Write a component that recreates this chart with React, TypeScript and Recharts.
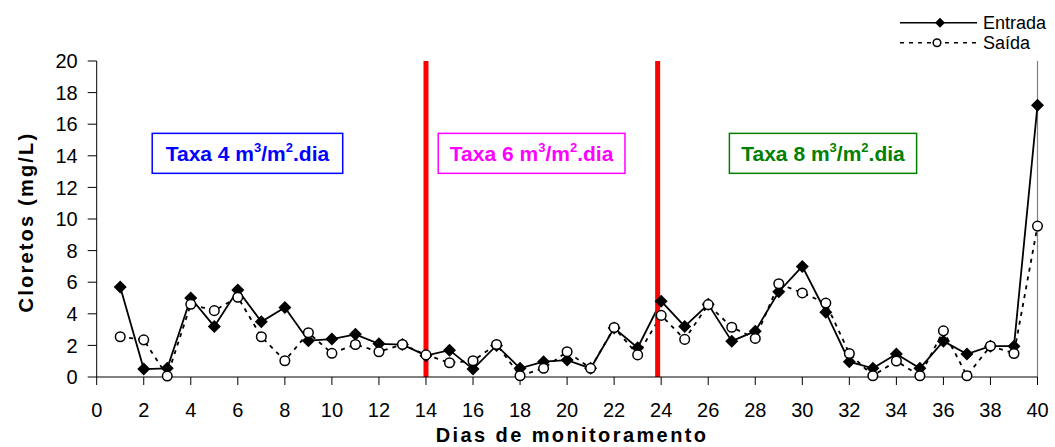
import React from 'react';
import { LineChart, Line, XAxis, YAxis, ReferenceLine, ReferenceArea, Legend } from 'recharts';

const days = [1, 2, 3, 4, 5, 6, 7, 8, 9, 10, 11, 12, 13, 14, 15, 16, 17, 18, 19, 20, 21, 22, 23, 24, 25, 26, 27, 28, 29, 30, 31, 32, 33, 34, 35, 36, 37, 38, 39, 40];
const entrada = [5.7, 0.5, 0.55, 5.0, 3.2, 5.5, 3.5, 4.4, 2.3, 2.4, 2.7, 2.1, 2.05, 1.35, 1.7, 0.5, 2.0, 0.55, 0.97, 1.07, 0.55, 3.1, 1.85, 4.8, 3.2, 4.6, 2.27, 2.9, 5.4, 7.0, 4.1, 0.97, 0.55, 1.45, 0.55, 2.27, 1.45, 1.95, 1.95, 17.2];
const saida = [2.55, 2.35, 0.06, 4.6, 4.2, 5.05, 2.55, 1.03, 2.8, 1.5, 2.06, 1.6, 2.06, 1.4, 0.9, 1.03, 2.06, 0.08, 0.55, 1.6, 0.55, 3.13, 1.4, 3.9, 2.38, 4.58, 3.15, 2.44, 5.9, 5.32, 4.68, 1.49, 0.08, 1.01, 0.08, 2.92, 0.08, 1.96, 1.49, 9.55];
const xTicks = [0, 2, 4, 6, 8, 10, 12, 14, 16, 18, 20, 22, 24, 26, 28, 30, 32, 34, 36, 38, 40];
const yTicks = [0, 2, 4, 6, 8, 10, 12, 14, 16, 18, 20];
const seriesNames = ['Entrada', 'Saída'];
const rates = ['4', '6', '8'];

const data = days.map((d, i) => ({ day: d, entrada: entrada[i], saida: saida[i] }));

const FONT = '"Liberation Sans", Arial, sans-serif';

const Diamond = (props: any) => {
  const { cx, cy, index } = props;
  if (cx == null || cy == null) return <g key={`d-${index}`} />;
  const s = 6.5;
  return (
    <path
      key={`d-${index}`}
      d={`M${cx},${cy - s}L${cx + s},${cy}L${cx},${cy + s}L${cx - s},${cy}Z`}
      fill="#000"
    />
  );
};

const OpenCircle = (props: any) => {
  const { cx, cy, index } = props;
  if (cx == null || cy == null) return <g key={`c-${index}`} />;
  return <circle key={`c-${index}`} cx={cx} cy={cy} r={4.8} fill="#fff" stroke="#000" strokeWidth={1.5} />;
};

const makeRateBox = (rate: string, color: string) => (props: any) => {
  const { x, y, width, height } = props;
  return (
    <g>
      <rect x={x} y={y} width={width} height={height} fill="#fff" stroke={color} strokeWidth={1.5} />
      <text
        x={x + width / 2}
        y={y + height / 2 + 7.5}
        textAnchor="middle"
        fill={color}
        fontFamily={FONT}
        fontSize={21}
        fontWeight="bold"
      >
        {`Taxa ${rate} m`}
        <tspan fontSize={13} dy={-9}>3</tspan>
        <tspan dy={9}>/m</tspan>
        <tspan fontSize={13} dy={-9}>2</tspan>
        <tspan dy={9}>.dia</tspan>
      </text>
    </g>
  );
};

const LegendContent = () => (
  <svg width={165} height={52} style={{ display: 'block' }}>
    <rect x={0} y={0} width={165} height={52} fill="#fff" />
    <line x1={10} y1={22.7} x2={87} y2={22.7} stroke="#000" strokeWidth={1.5} />
    <path d="M50,17.7L55,22.7L50,27.7L45,22.7Z" fill="#000" />
    <text x={93} y={22.7} dy="0.36em" fontFamily={FONT} fontSize={18} fill="#000">{seriesNames[0]}</text>
    <line x1={10} y1={42.7} x2={86} y2={42.7} stroke="#000" strokeWidth={1.5} strokeDasharray="4 5" />
    <circle cx={47} cy={42.7} r={3.8} fill="#fff" stroke="#000" strokeWidth={1.5} />
    <text x={93} y={42.7} dy="0.36em" fontFamily={FONT} fontSize={18} fill="#000">{seriesNames[1]}</text>
  </svg>
);

const YTitle = (props: any) => {
  const vb = props.viewBox || { x: 0, y: 61, width: 97, height: 316 };
  const cx = 33;
  const cy = vb.y + vb.height / 2 + 3;
  return (
    <text
      x={cx}
      y={cy}
      transform={`rotate(-90, ${cx}, ${cy})`}
      textAnchor="middle"
      fontFamily={FONT}
      fontSize={20}
      fontWeight="bold"
      letterSpacing={2.2}
      fill="#000"
    >
      Cloretos (mg/L)
    </text>
  );
};

const XTitle = (props: any) => {
  const vb = props.viewBox || { x: 97, y: 377, width: 940, height: 70 };
  return (
    <text
      x={vb.x + vb.width / 2 + 5}
      y={442}
      textAnchor="middle"
      fontFamily={FONT}
      fontSize={20}
      fontWeight="bold"
      letterSpacing={2.4}
      fill="#000"
    >
      Dias de monitoramento
    </text>
  );
};

export default function App() {
  return (
    <div style={{ position: 'absolute', left: 0, top: 0, width: 1055, height: 447, background: '#fff' }}>
      <LineChart
        width={1055}
        height={447}
        data={data}
        margin={{ top: 61, right: 17.5, left: 0, bottom: 0 }}
      >
        <XAxis
          dataKey="day"
          type="number"
          domain={[0, 40]}
          ticks={xTicks}
          interval={0}
          height={70}
          tickSize={8}
          tickMargin={18}
          stroke="#000"
          tick={{ fill: '#000', fontFamily: FONT, fontSize: 20 }}
          label={<XTitle />}
        />
        <YAxis
          type="number"
          domain={[0, 20]}
          ticks={yTicks}
          interval={0}
          width={96.7}
          tickSize={9}
          tickMargin={10}
          stroke="#000"
          tick={{ fill: '#000', fontFamily: FONT, fontSize: 20 }}
          label={<YTitle />}
        />
        <ReferenceLine x={40} stroke="#808080" strokeWidth={1.2} />
        <ReferenceArea x1={2.36} x2={10.46} y1={12.89} y2={15.42} shape={makeRateBox(rates[0], '#0000FF')} />
        <ReferenceArea x1={14.52} x2={22.46} y1={12.89} y2={15.42} shape={makeRateBox(rates[1], '#FF00FF')} />
        <ReferenceArea x1={26.9} x2={34.86} y1={12.89} y2={15.42} shape={makeRateBox(rates[2], '#008000')} />
        <Line
          dataKey="entrada"
          name={seriesNames[0]}
          stroke="#000"
          strokeWidth={1.8}
          dot={Diamond}
          activeDot={false}
          isAnimationActive={false}
        />
        <Line
          dataKey="saida"
          name={seriesNames[1]}
          stroke="#000"
          strokeWidth={1.8}
          strokeDasharray="4 5"
          dot={OpenCircle}
          activeDot={false}
          isAnimationActive={false}
        />
        <ReferenceLine x={14} stroke="#FF0000" strokeWidth={5} />
        <ReferenceLine x={23.85} stroke="#FF0000" strokeWidth={5} />
        <Legend
          layout="vertical"
          align="center"
          verticalAlign="middle"
          content={<LegendContent />}
          wrapperStyle={{ left: 890, top: 0, width: 165, height: 52 }}
        />
      </LineChart>
    </div>
  );
}
